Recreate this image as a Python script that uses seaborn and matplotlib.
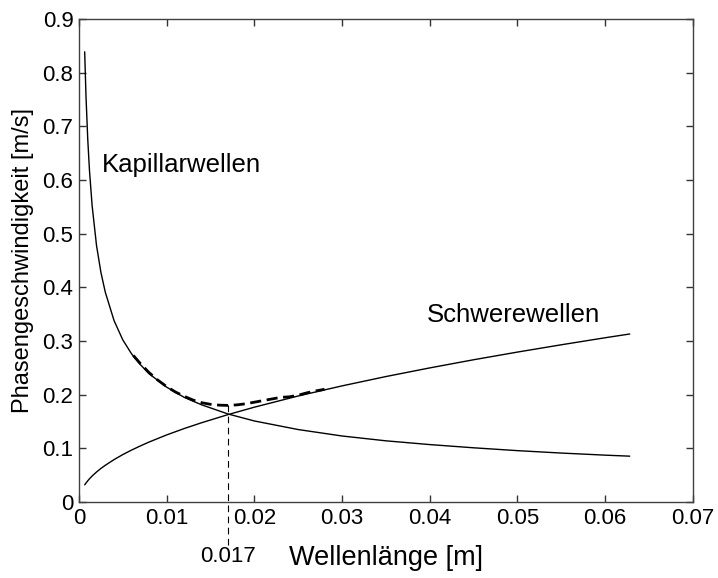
import numpy as np
import pandas as pd
import seaborn as sns
import matplotlib
matplotlib.use("Agg")
import matplotlib.pyplot as plt

# values
wavelength = [0.00065, 0.0008, 0.001, 0.0012, 0.0015, 0.002, 0.0025, 0.003, 0.004,
              0.005, 0.006, 0.007, 0.008, 0.010, 0.012, 0.014, 0.017, 0.020, 0.025,
              0.030, 0.035, 0.040, 0.045, 0.050, 0.055, 0.060, 0.0628]
capillary = [0.839, 0.756, 0.676, 0.617, 0.552, 0.478, 0.428, 0.391, 0.338,
             0.302, 0.276, 0.256, 0.239, 0.214, 0.195, 0.181, 0.164, 0.151, 0.135,
             0.123, 0.114, 0.107, 0.101, 0.0957, 0.0912, 0.0873, 0.0854]
gravity = [0.0319, 0.0353, 0.0395, 0.0433, 0.0484, 0.0559, 0.0625, 0.0684, 0.0790,
           0.0884, 0.0968, 0.1045, 0.1118, 0.1250, 0.1369, 0.1478, 0.1629, 0.1767, 0.1976,
           0.2164, 0.2338, 0.2499, 0.2651, 0.2794, 0.2930, 0.3061, 0.3131]

combined_x = [0.0062, 0.007, 0.008, 0.009, 0.010, 0.011, 0.012, 0.013, 0.014, 0.015,
              0.016, 0.017, 0.018, 0.019, 0.020, 0.021, 0.022, 0.023, 0.024, 0.025,
              0.026, 0.027, 0.028]
combined_y = [0.273, 0.258, 0.241, 0.227, 0.215, 0.205, 0.197, 0.190, 0.185, 0.182,
              0.1805, 0.180, 0.181, 0.183, 0.186, 0.189, 0.192, 0.195, 0.196, 0.199,
              0.2035, 0.207, 0.210]

lambda_min = 0.017
c_min = 0.180

x_ticks = [0, 0.01, 0.02, 0.03, 0.04, 0.05, 0.06, 0.07]
x_ticklabels = ["0", "0.01", "0.02", "0.03", "0.04", "0.05", "0.06", "0.07"]
y_ticks = [0, 0.1, 0.2, 0.3, 0.4, 0.5, 0.6, 0.7, 0.8, 0.9]
y_ticklabels = ["0", "0.1", "0.2", "0.3", "0.4", "0.5", "0.6", "0.7", "0.8", "0.9"]

sns.set_style("ticks")
plt.rcParams["font.family"] = ["Liberation Sans", "DejaVu Sans"]
plt.rcParams["text.color"] = "black"
plt.rcParams["axes.labelcolor"] = "black"
plt.rcParams["xtick.labelcolor"] = "black"
plt.rcParams["ytick.labelcolor"] = "black"
plt.rcParams["xtick.direction"] = "in"
plt.rcParams["ytick.direction"] = "in"

df = pd.DataFrame({"x": wavelength, "cap": capillary, "grav": gravity})
df_comb = pd.DataFrame({"x": combined_x, "y": combined_y})

fig = plt.figure(figsize=(7.18, 5.78), dpi=100)
ax = fig.add_axes([0.110, 0.1315, 0.855, 0.8355])

sns.lineplot(data=df, x="x", y="cap", ax=ax, color="black", linewidth=1.0, sort=False)
sns.lineplot(data=df, x="x", y="grav", ax=ax, color="black", linewidth=1.0, sort=False)
sns.lineplot(data=df_comb, x="x", y="y", ax=ax, color="black", linewidth=2.0,
             linestyle=(0, (4, 2)), sort=False)

# vertical marker at the minimum, running below the axis
ax.plot([lambda_min, lambda_min], [c_min, -0.08], color="black", linewidth=0.8,
        linestyle=(0, (6, 4)), clip_on=False)
ax.text(lambda_min, -0.102, "0.017", ha="center", va="center", fontsize=16)

ax.text(0.0026, 0.628, "Kapillarwellen", fontsize=18.5, va="center", ha="left")
ax.text(0.0397, 0.349, "Schwerewellen", fontsize=18.5, va="center", ha="left")

ax.set_xlim(0, 0.07)
ax.set_ylim(0, 0.9)
ax.set_xticks(x_ticks)
ax.set_xticklabels(x_ticklabels)
ax.set_yticks(y_ticks)
ax.set_yticklabels(y_ticklabels)
ax.tick_params(axis="both", labelsize=16, length=5, width=1, color="#333333",
               top=True, right=True, pad=4)

ax.set_xlabel("Wellenlänge [m]", fontsize=19.5, labelpad=12)
ax.set_ylabel("Phasengeschwindigkeit [m/s]", fontsize=17, labelpad=6)

for side in ["top", "right", "bottom", "left"]:
    ax.spines[side].set_visible(True)
    ax.spines[side].set_color("#404040")
    ax.spines[side].set_linewidth(1.0)

fig.savefig("out.png", dpi=100)
